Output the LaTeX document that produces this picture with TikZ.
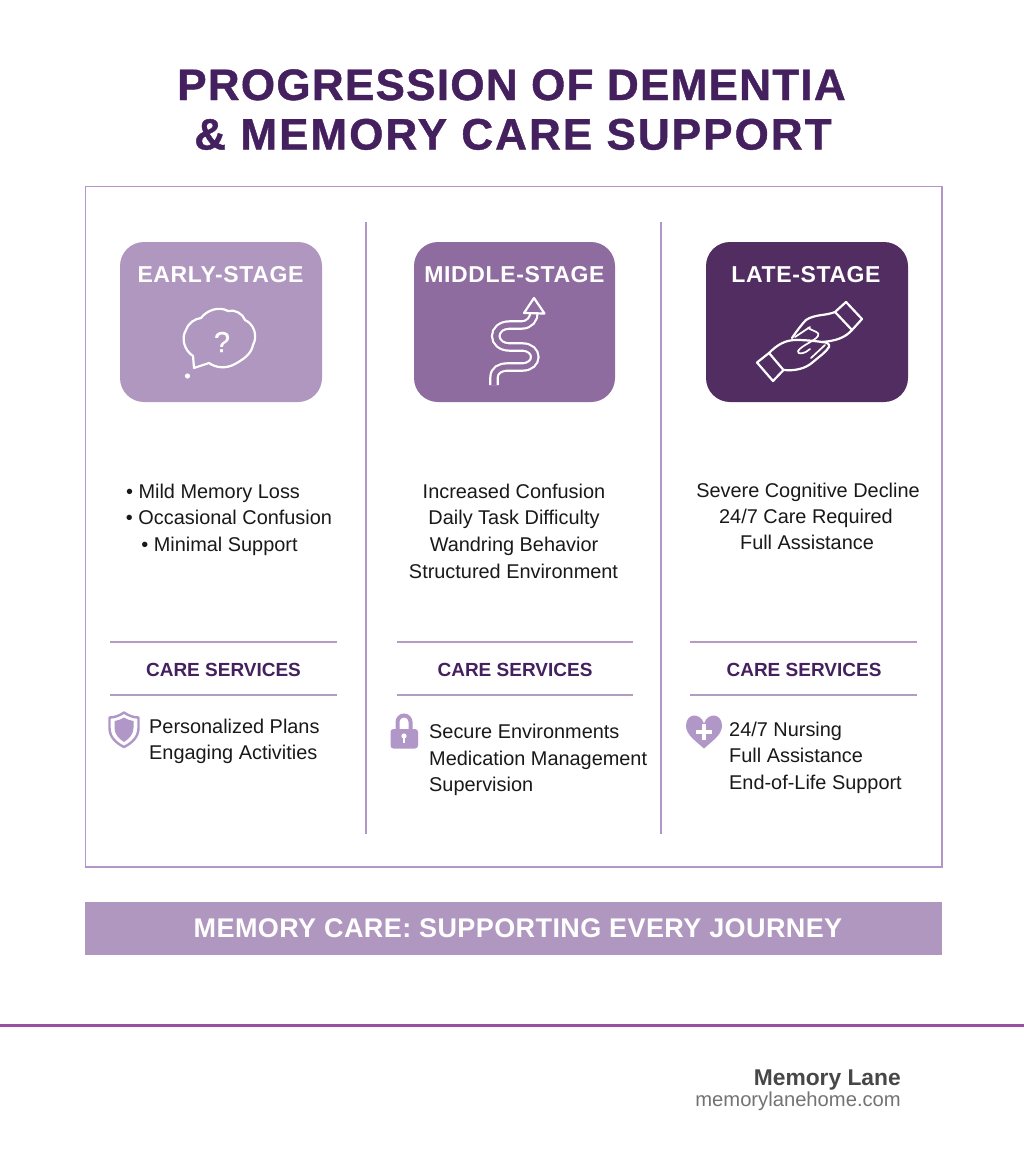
\documentclass[tikz,border=0pt]{standalone}
\usepackage{fontspec}
\setmainfont{Liberation Sans}
\usetikzlibrary{calc}
\definecolor{titlec}{HTML}{45205E}
\definecolor{framec}{HTML}{B495C8}
\definecolor{earlyc}{HTML}{B097C0}
\definecolor{midc}{HTML}{8F6CA0}
\definecolor{latec}{HTML}{522D62}
\definecolor{rulec}{HTML}{B39CC0}
\definecolor{iconc}{HTML}{B097C8}
\definecolor{footc}{HTML}{9A4FA6}
\tikzset{
  x=1pt,y=-1pt,
  titletxt/.style={anchor=base,text=titlec,font=\fontsize{44}{44}\selectfont\bfseries,inner sep=0pt},
  stagebox/.style={rounded corners=24pt},
  stagetxt/.style={anchor=base,text=white,font=\fontsize{23}{23}\selectfont\bfseries\addfontfeature{LetterSpace=2.7},inner sep=0pt},
  bodytxt/.style={anchor=base,text=black!90,font=\fontsize{19.9}{19.9}\selectfont,inner sep=0pt},
  servtxt/.style={anchor=base,text=titlec,font=\fontsize{19}{19}\selectfont\bfseries,inner sep=0pt},
  rulel/.style={draw=rulec,line width=1.6pt},
  icl/.style={draw=white,line width=2.2pt,line cap=round,line join=round},
}
\begin{document}
\begin{tikzpicture}
\useasboundingbox (0,0) rectangle (1024,1154);
\fill[white] (0,0) rectangle (1024,1154);
\node[titletxt] (t1) at (511.5,100) {\addfontfeature{LetterSpace=2.9,FakeBold=1}PROGRESSION OF DEMENTIA};
\node[titletxt] (t2) at (513,149.5) {\addfontfeature{LetterSpace=4.7,FakeBold=1}\& MEMORY CARE SUPPORT};
\draw[framec,line width=1.6pt] (85.5,186.5) rectangle (942,867);
\draw[framec,line width=1.6pt] (366,222) -- (366,834);
\draw[framec,line width=1.6pt] (661,222) -- (661,834);
% stage boxes
\fill[earlyc,stagebox] (120,242) rectangle (322,402);
\fill[midc,stagebox] (414,242) rectangle (615,402);
\fill[latec,stagebox] (706,242) rectangle (908,402);
\node[stagetxt] (s1) at (220.5,282) {EARLY-STAGE};
\node[stagetxt] (s2) at (514.5,282) {MIDDLE-STAGE};
\node[stagetxt] (s3) at (806,282) {LATE-STAGE};
% cloud icon
\draw[icl] (194,368) -- (193,356) .. controls (184,350) and (181,338) .. (186,330)
  .. controls (189,322) and (195,319) .. (201,318)
  .. controls (207,310) and (219,306) .. (228,311)
  .. controls (235,309) and (243,314) .. (245,320)
  .. controls (254,324) and (258,336) .. (253,345)
  .. controls (251,355) and (242,360) .. (235,364)
  .. controls (226,369) and (216,368) .. (209,363) -- cycle;
\fill[white] (187.5,376) circle (2.6pt);
\node[text=white,font=\fontsize{29}{29}\selectfont\addfontfeature{FakeBold=0.6},inner sep=0pt] (q) at (222,342) {?};
% winding arrow
\draw[white,line width=2.2pt,double=midc,double distance=5.2pt,line cap=butt]
  (494,385) -- (494,378) .. controls (494,370) and (500,367) .. (508,367)
  -- (522,367) .. controls (539,367) and (539,347) .. (522,347)
  -- (510,347) .. controls (491,347) and (491,325) .. (510,325)
  -- (521,325) .. controls (530,325) and (534,319) .. (534,312);
\draw[icl,fill=midc] (534,298) -- (524,313) -- (544.5,313.5) -- cycle;
% hands
\draw[icl] (757,362.5) -- (769,353) -- (783.5,370) -- (773,381) -- cycle;
\draw[icl] (835,312) -- (846,302) -- (862,319) -- (852,330) -- cycle;
\draw[icl] (769,353) .. controls (778,344) and (786,340) .. (796,340)
  .. controls (806,340) and (815,341) .. (822,342);
\draw[icl] (783.5,370) .. controls (795,371) and (805,369) .. (813,362)
  .. controls (820,356) and (826,352) .. (829,347) .. controls (830,344) and (827,342) .. (822,342);
\draw[icl] (835,312) .. controls (825,316) and (815,314) .. (806,320)
  .. controls (802,324) and (796,332) .. (792,338);
\draw[icl] (852,330) .. controls (845,338) and (835,341) .. (822,342);
\draw[icl,line width=1.7pt] (808,328) .. controls (815,332) and (820,332) .. (818,336)
  .. controls (815,341) and (802,345) .. (798,351) .. controls (797,355) and (805,354) .. (810,349);
\draw[icl,line width=1.7pt] (795,337) -- (810,327);
\draw[icl,line width=1.7pt] (811,358) -- (825,345);
% body
\node[bodytxt] (a1) at (213,498) {• Mild Memory Loss};
\node[bodytxt] (a2) at (229,524.5) {• Occasional Confusion};
\node[bodytxt] (a3) at (219.5,551) {• Minimal Support};
\node[bodytxt] (b1) at (514,498) {Increased Confusion};
\node[bodytxt] (b2) at (514,524.5) {Daily Task Difficulty};
\node[bodytxt] (b3) at (514,551) {Wandring Behavior};
\node[bodytxt] (b4) at (513.5,578) {Structured Environment};
\node[bodytxt] (c1) at (808,497) {Severe Cognitive Decline};
\node[bodytxt] (c2) at (806,523) {24/7 Care Required};
\node[bodytxt] (c3) at (807,549) {Full Assistance};
% care services
\foreach \l/\r/\m/\n in {110/337/223.5/sa,397/633/515/sb,690/917/804/sc}{
  \draw[rulel] (\l,642) -- (\r,642);
  \draw[rulel] (\l,695) -- (\r,695);
  \node[servtxt] (\n) at (\m,676.5) {CARE SERVICES};
}
% shield
\draw[iconc,line width=2.4pt,line join=round] (124,712.5) .. controls (129,716) and (134,717.5) .. (138.5,717.5)
  -- (138.5,728) .. controls (138.5,737) and (132,743) .. (124,747)
  .. controls (116,743) and (109.5,737) .. (109.5,728) -- (109.5,717.5)
  .. controls (114,717.5) and (119,716) .. (124,712.5) -- cycle;
\fill[iconc] (124,717.5) .. controls (127,719.5) and (130,720.5) .. (133.5,721)
  -- (133.5,728) .. controls (133.5,734) and (129,739) .. (124,742)
  .. controls (119,739) and (114.5,734) .. (114.5,728) -- (114.5,721)
  .. controls (118,720.5) and (121,719.5) .. (124,717.5) -- cycle;
% lock
\draw[iconc,line width=4pt] (397.5,731) -- (397.5,722) arc[start angle=180,end angle=0,radius=6.5pt] -- (410.5,731);
\fill[iconc,rounded corners=3pt] (390.5,729) rectangle (418,748.5);
\fill[white] (404,736) circle (2.6pt);
\fill[white] (402.8,736) rectangle (405.2,743);
% heart
\fill[iconc] (704,748.5) .. controls (697,742) and (686,735) .. (686,726)
  .. controls (686,713) and (700,712) .. (704,723.5)
  .. controls (708,712) and (722,713) .. (722,726)
  .. controls (722,735) and (711,742) .. (704,748.5) -- cycle;
\fill[white] (696,730) rectangle (712,734);
\fill[white] (702,724) rectangle (706,740);
% services text
\node[bodytxt,anchor=base west] (d1) at (149,733) {Personalized Plans};
\node[bodytxt,anchor=base west] (d2) at (149,759.5) {Engaging Activities};
\node[bodytxt,anchor=base west] (e1) at (429,738) {Secure Environments};
\node[bodytxt,anchor=base west] (e2) at (429,765) {Medication Management};
\node[bodytxt,anchor=base west] (e3) at (429,791) {Supervision};
\node[bodytxt,anchor=base west] (f1) at (729,736) {24/7 Nursing};
\node[bodytxt,anchor=base west] (f2) at (729,762.5) {Full Assistance};
\node[bodytxt,anchor=base west] (f3) at (729,789) {End-of-Life Support};
% banner
\fill[earlyc] (85,902) rectangle (942,955);
\node[anchor=base,text=white,font=\fontsize{27}{27}\selectfont\bfseries\addfontfeature{LetterSpace=1.5},inner sep=0pt] (bn) at (518,937.5) {MEMORY CARE: SUPPORTING EVERY JOURNEY};
% footer
\draw[footc,line width=3pt] (0,1025.5) -- (1024,1025.5);
\node[anchor=base east,inner sep=0pt,text=black!72,font=\fontsize{22.8}{22.8}\selectfont\bfseries] (ml) at (901,1085) {Memory Lane};
\node[anchor=base east,inner sep=0pt,text=black!55,font=\fontsize{20.2}{20.2}\selectfont] (mu) at (901,1106) {memorylanehome.com};
\end{tikzpicture}
\end{document}
